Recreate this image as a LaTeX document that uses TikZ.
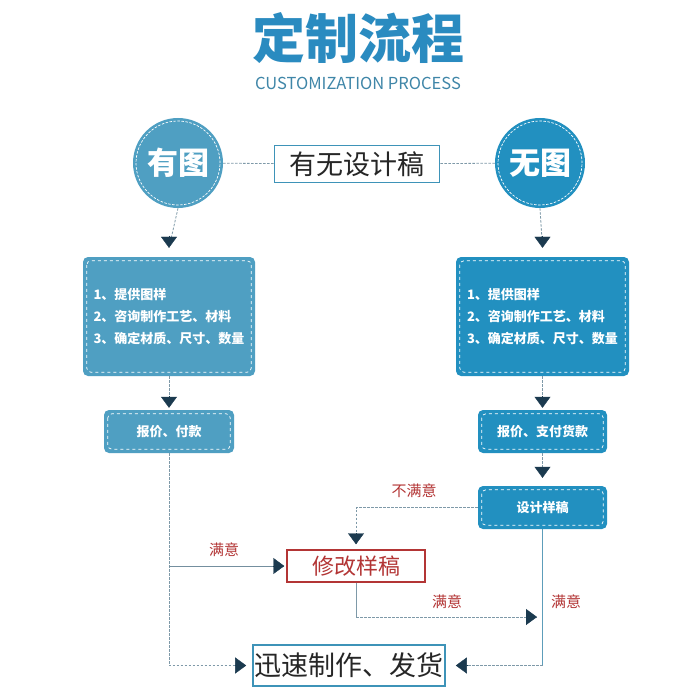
\documentclass[tikz,border=0pt]{standalone}
\usepackage{fontspec}
\setmainfont{Noto Sans CJK SC}
\newfontfamily\cjk{Noto Sans CJK SC}
\usetikzlibrary{arrows.meta,calc}
\definecolor{titleblue}{HTML}{2A8BC0}
\definecolor{subblue}{HTML}{3F86A8}
\definecolor{lblue}{HTML}{4F9FC2}
\definecolor{dblue}{HTML}{2290C0}
\definecolor{navy}{HTML}{1B3A4F}
\definecolor{connc}{HTML}{7E99A8}
\definecolor{lred}{HTML}{B33535}
\definecolor{boxborder}{HTML}{3E93B8}
\tikzset{
  circ/.style={circle,minimum size=90pt,inner sep=0pt,text=white,font=\cjk\bfseries\fontsize{31}{32}\selectfont},
  bluebox/.style={rounded corners=5pt,inner sep=0pt,text=white,font=\cjk\bfseries\fontsize{13}{22}\selectfont},
  innerdash/.style={draw=white,dashed,line width=0.7pt,rounded corners=4pt},
  outlinebox/.style={draw=boxborder,line width=1.6pt,inner sep=0pt,fill=white,font=\cjk\fontsize{27}{28}\selectfont,text=black!85},
  redbox/.style={draw=lred,line width=1.4pt,inner sep=0pt,fill=white,font=\cjk\fontsize{22}{24}\selectfont,text=lred},
  conn/.style={draw=connc,dashed,line width=0.8pt,dash pattern=on 2.5pt off 1.5pt},
  solidc/.style={draw=connc,line width=0.8pt},
  tip/.style={-{Triangle[width=16pt,length=11pt]},navy},
  lbl/.style={text=lred,font=\cjk\fontsize{15}{16}\selectfont,inner sep=0pt}
}
\begin{document}
\begin{tikzpicture}[x=1pt,y=-1pt]
\useasboundingbox (0,0) rectangle (700,700);
\fill[white] (0,0) rectangle (700,700);
% title
\node[text=titleblue,font=\cjk\bfseries\fontsize{53}{55}\selectfont,inner sep=0pt] (title) at (358,38) {定制流程};
\node[text=subblue,font=\fontsize{16.5}{17}\selectfont,inner sep=0pt] (sub) at (358,83) {CUSTOMIZATION PROCESS};
% circles
\node[circ,fill=lblue] (yt) at (178,163) {有图};
\draw[white,dashed,line width=0.7pt,dash pattern=on 2.5pt off 1.5pt] (yt.center) circle (42pt);
\node[circ,fill=dblue] (wt) at (540,163) {无图};
\draw[white,dashed,line width=0.7pt,dash pattern=on 2.5pt off 1.5pt] (wt.center) circle (42pt);
\node[outlinebox,minimum width=165pt,minimum height=37pt] (q) at (357,164) {有无设计稿};
\draw[conn] (yt) -- (q);
\draw[conn] (q) -- (wt);
% big boxes
\node[bluebox,fill=lblue,minimum width=172pt,minimum height=119pt,align=left] (lb) at (169,316.5) {1、提供图样\\2、咨询制作工艺、材料\\3、确定材质、尺寸、数量};
\draw[innerdash] ([xshift=4pt,yshift=-4pt]lb.north west) rectangle ([xshift=-4pt,yshift=4pt]lb.south east);
\node[bluebox,fill=dblue,minimum width=173pt,minimum height=119pt,align=left] (rb) at (542.5,316.5) {1、提供图样\\2、咨询制作工艺、材料\\3、确定材质、尺寸、数量};
\draw[innerdash] ([xshift=4pt,yshift=-4pt]rb.north west) rectangle ([xshift=-4pt,yshift=4pt]rb.south east);
\draw[conn] (yt.south) -- ([yshift=9pt]lb.north);
\draw[tip] ([yshift=21pt]lb.north) -- ([yshift=9pt]lb.north);
\draw[conn] (wt.south) -- ([yshift=9pt]rb.north);
\draw[tip] ([yshift=21pt]rb.north) -- ([yshift=9pt]rb.north);
% small boxes
\node[bluebox,fill=lblue,minimum width=130pt,minimum height=43pt] (lp) at (169,431.5) {报价、付款};
\draw[innerdash] ([xshift=4pt,yshift=-4pt]lp.north west) rectangle ([xshift=-4pt,yshift=4pt]lp.south east);
\node[bluebox,fill=dblue,minimum width=129pt,minimum height=43pt] (rp) at (542.5,431.5) {报价、支付货款};
\draw[innerdash] ([xshift=4pt,yshift=-4pt]rp.north west) rectangle ([xshift=-4pt,yshift=4pt]rp.south east);
\draw[conn] (lb.south) -- ([yshift=2pt]lp.north);
\draw[tip] ([yshift=14pt]lp.north) -- ([yshift=2pt]lp.north);
\draw[conn] (rb.south) -- ([yshift=2pt]rp.north);
\draw[tip] ([yshift=14pt]rp.north) -- ([yshift=2pt]rp.north);
% design box
\node[bluebox,fill=dblue,minimum width=129pt,minimum height=43pt] (sj) at (542.5,507.5) {设计样稿};
\draw[innerdash] ([xshift=4pt,yshift=-4pt]sj.north west) rectangle ([xshift=-4pt,yshift=4pt]sj.south east);
\draw[conn] (rp.south) -- ([yshift=8pt]sj.north);
\draw[tip] ([yshift=19pt]sj.north) -- ([yshift=8pt]sj.north);
% revise box
\node[redbox,minimum width=138pt,minimum height=32pt] (xg) at (356,566) {修改样稿};
\draw[conn] (sj.west) -| ([yshift=5pt]xg.north);
\draw[tip] ([yshift=16pt]xg.north) -- ([yshift=5pt]xg.north);
\node[lbl] (l1) at (414,491) {不满意};
% final box
\node[outlinebox,minimum width=192pt,minimum height=41pt] (xs) at (349,665.5) {迅速制作、发货};
% left path
\coordinate (lc) at (lp.south |- xs.west);
\draw[conn] (lp.south) -- (lc) -- ([xshift=-6pt]xs.west);
\draw[tip] ([xshift=-17pt]xs.west) -- ([xshift=-6pt]xs.west);
\coordinate (br) at (lp.south |- xg.west);
\draw[solidc,draw=connc!90!navy] (br) -- ([xshift=-2pt]xg.west);
\draw[tip] ([xshift=-13pt]xg.west) -- ([xshift=-2pt]xg.west);
\node[lbl] (l2) at (224,550) {满意};
% revise -> right line
\coordinate (rc) at (543,617);
\coordinate (mc) at (xg.south |- rc);
\draw[solidc] (xg.south) -- (mc);
\draw[conn] (mc) -- ([xshift=-6pt]rc);
\draw[tip] ([xshift=-17pt]rc) -- ([xshift=-6pt]rc);
\node[lbl] (l3) at (447,602) {满意};
% design -> final
\coordinate (dc) at (sj.south |- xs.east);
\draw[solidc,draw=lblue!70!connc] (sj.south) -- (dc);
\draw[conn] (dc) -- ([xshift=10pt]xs.east);
\draw[tip] ([xshift=21pt]xs.east) -- ([xshift=10pt]xs.east);
\node[lbl] (l4) at (566,602) {满意};
\end{tikzpicture}
\end{document}
